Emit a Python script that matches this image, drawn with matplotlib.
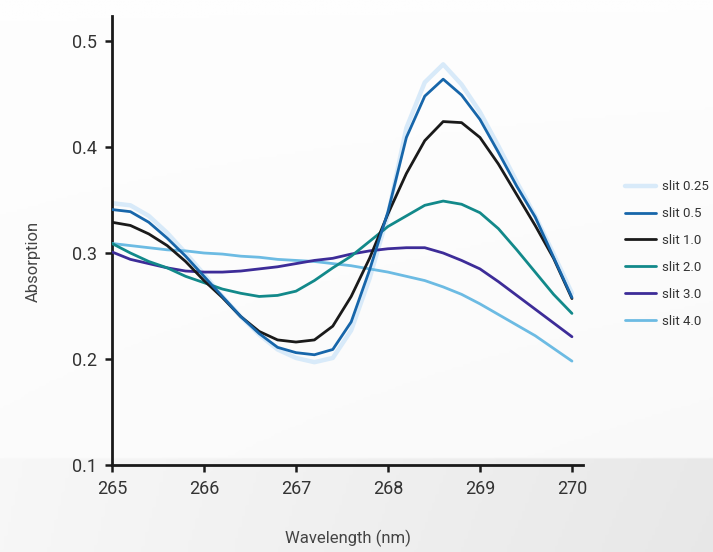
import numpy as np
import matplotlib
matplotlib.use("Agg")
import matplotlib.pyplot as plt
from matplotlib.colors import LinearSegmentedColormap

plt.rcParams['font.family'] = ['Roboto', 'DejaVu Sans']

wavelength = [265.0, 265.2, 265.4, 265.6, 265.8, 266.0, 266.2, 266.4, 266.6, 266.8,
              267.0, 267.2, 267.4, 267.6, 267.8, 268.0, 268.2, 268.4, 268.6, 268.8,
              269.0, 269.2, 269.4, 269.6, 269.8, 270.0]

slit_025 = [0.347, 0.345, 0.335, 0.319, 0.300, 0.280, 0.259, 0.240, 0.223, 0.209,
            0.201, 0.197, 0.201, 0.227, 0.276, 0.336, 0.418, 0.461, 0.478, 0.459,
            0.433, 0.401, 0.367, 0.335, 0.299, 0.262]
slit_05 = [0.341, 0.339, 0.329, 0.314, 0.297, 0.278, 0.259, 0.240, 0.224, 0.211,
           0.206, 0.204, 0.209, 0.235, 0.284, 0.339, 0.409, 0.448, 0.464, 0.449,
           0.426, 0.395, 0.363, 0.334, 0.296, 0.258]
slit_10 = [0.329, 0.326, 0.318, 0.307, 0.292, 0.274, 0.258, 0.240, 0.226, 0.218,
           0.216, 0.218, 0.231, 0.259, 0.295, 0.337, 0.375, 0.406, 0.424, 0.423,
           0.409, 0.384, 0.355, 0.326, 0.295, 0.257]
slit_20 = [0.309, 0.300, 0.292, 0.286, 0.278, 0.272, 0.266, 0.262, 0.259, 0.260,
           0.264, 0.274, 0.286, 0.297, 0.311, 0.325, 0.335, 0.345, 0.349, 0.346,
           0.338, 0.323, 0.303, 0.282, 0.261, 0.243]
slit_30 = [0.301, 0.294, 0.290, 0.286, 0.283, 0.282, 0.282, 0.283, 0.285, 0.287,
           0.290, 0.293, 0.295, 0.299, 0.302, 0.304, 0.305, 0.305, 0.300, 0.293,
           0.285, 0.273, 0.260, 0.247, 0.234, 0.221]
slit_40 = [0.309, 0.307, 0.305, 0.303, 0.302, 0.300, 0.299, 0.297, 0.296, 0.294,
           0.293, 0.292, 0.290, 0.288, 0.285, 0.282, 0.278, 0.274, 0.268, 0.261,
           0.252, 0.242, 0.232, 0.222, 0.210, 0.198]

labels = ['slit 0.25', 'slit 0.5', 'slit 1.0', 'slit 2.0', 'slit 3.0', 'slit 4.0']
series = [slit_025, slit_05, slit_10, slit_20, slit_30, slit_40]
colors = ['#d8eaf9', '#1766aa', '#1a1a1a', '#12898a', '#3d2c98', '#6cbbe3']
widths = [3.2, 2.0, 2.0, 2.0, 2.0, 2.0]
zorders = [2, 8, 7, 6, 5, 4]

xticks = [265, 266, 267, 268, 269, 270]
yticks = [0.1, 0.2, 0.3, 0.4, 0.5]

fig = plt.figure(figsize=(7.13, 5.52), dpi=100)

# background gradient
bg = fig.add_axes([0, 0, 1, 1], zorder=-10)
bg.set_axis_off()
ny, nx = 200, 200
yy, xx = np.mgrid[0:1:ny*1j, 0:1:nx*1j]
val = 0.10 * yy + 0.10 * xx * yy
band = (yy > 458 / 552).astype(float)
val = val + band * (0.15 + 0.45 * xx)
cmap = LinearSegmentedColormap.from_list('bgc', ['#fefefe', '#e2e2e2'])
bg.imshow(val, cmap=cmap, aspect='auto', extent=[0, 1, 1, 0], vmin=0, vmax=1)
bg.set_xlim(0, 1)
bg.set_ylim(1, 0)

ax = fig.add_axes([112 / 713, 1 - 465 / 552, (583 - 112) / 713, (465 - 16) / 552])
ax.patch.set_alpha(0)

handles = []
for lab, s, c, w, z in zip(labels, series, colors, widths, zorders):
    h, = ax.plot(wavelength, s, color=c, lw=w, label=lab, zorder=z,
                 solid_joinstyle='round', solid_capstyle='round')
    handles.append(h)

ax.set_xlim(265, 270.12)
ax.set_ylim(0.1, 0.5236)
ax.set_xticks(xticks)
ax.set_xticklabels([str(t) for t in xticks])
ax.set_yticks(yticks)
ax.set_yticklabels([f'{t:.1f}' for t in yticks])

for side in ['top', 'right']:
    ax.spines[side].set_visible(False)
for side in ['left', 'bottom']:
    ax.spines[side].set_linewidth(2.0)
    ax.spines[side].set_color('#1a1a1a')

ax.tick_params(axis='both', direction='out', length=5, width=1.8, color='#1a1a1a',
               labelsize=13, labelcolor='#333333', pad=6)

ax.set_xlabel('Wavelength (nm)', fontsize=12, color='#444444')
ax.xaxis.set_label_coords(0.5, -(538 - 465) / 449, transform=ax.transAxes)
ax.xaxis.label.set_va('center')
ax.set_ylabel('Absorption', fontsize=12, color='#444444')
ax.yaxis.set_label_coords(-(112 - 33) / 471, 1 - (261 - 16) / 449, transform=ax.transAxes)
ax.yaxis.label.set_va('center')

leg = fig.legend(handles=handles, labels=labels, loc='upper left',
                 bbox_to_anchor=(620 / 713, 1 - 175 / 552), frameon=False,
                 fontsize=9.5, handlelength=2.3, labelspacing=1.05, handletextpad=0.45,
                 borderaxespad=0)
for t in leg.get_texts():
    t.set_color('#333333')

fig.savefig('out.png', dpi=100)
